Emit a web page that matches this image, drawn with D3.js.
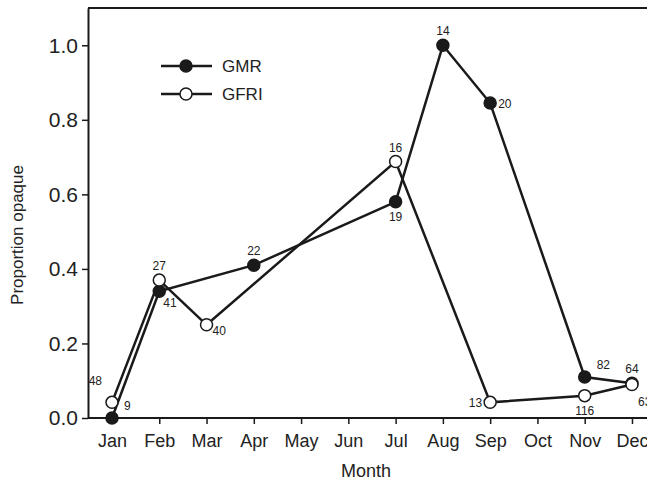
<!DOCTYPE html>
<html>
<head>
<meta charset="utf-8">
<script src="https://cdn.jsdelivr.net/npm/d3@7"></script>
<style>
  body { margin: 0; background: #fff; }
  svg text { font-family: "Liberation Sans", Arial, sans-serif; fill: #222; }
</style>
</head>
<body>
<div id="chart"></div>
<script>
// proportion of opaque otoliths by month, two sites

const months = ["Jan", "Feb", "Mar", "Apr", "May", "Jun", "Jul", "Aug", "Sep", "Oct", "Nov", "Dec"];
const yTicks = [0, 0.2, 0.4, 0.6, 0.8, 1.0];

const gmrMonths = ["Jan", "Feb", "Apr", "Jul", "Aug", "Sep", "Nov", "Dec"];
const gmrValues = [0.0, 0.34, 0.41, 0.58, 1.0, 0.845, 0.11, 0.093];
const gmrN = [9, 41, 22, 19, 14, 20, 82, 64];

const gfriMonths = ["Jan", "Feb", "Mar", "Jul", "Sep", "Nov", "Dec"];
const gfriValues = [0.042, 0.37, 0.25, 0.688, 0.042, 0.06, 0.09];
const gfriN = [48, 27, 40, 16, 13, 116, 63];

// where each sample-size label sits relative to its marker
const gmrLabelPos = ["ur", "br", "up", "down", "up", "right", "ur", "up"];
const gfriLabelPos = ["ul", "up", "rl", "up", "left", "down", "br2"];

const W = 647, H = 481;
const margin = { top: 8, left: 88, bottom: 63 };
const plotH = H - margin.top - margin.bottom;
const step = 47.27;

const svg = d3.select("#chart").append("svg")
  .attr("width", W)
  .attr("height", H);

const x = d3.scalePoint()
  .domain(months)
  .range([margin.left + 24, margin.left + 24 + step * 11]);

const y = d3.scaleLinear()
  .domain([0, 1.1])
  .range([margin.top + plotH, margin.top]);

// frame: top line and axes run off the right edge
svg.append("line")
  .attr("x1", margin.left).attr("x2", W + 5)
  .attr("y1", y(1.1)).attr("y2", y(1.1))
  .attr("stroke", "#1a1a1a").attr("stroke-width", 2);

const yAxis = svg.append("g")
  .attr("transform", `translate(${margin.left},0)`)
  .call(d3.axisLeft(y).tickValues(yTicks).tickFormat(d3.format(".1f")).tickSize(6).tickSizeOuter(0).tickPadding(4));

const xAxis = svg.append("g")
  .attr("transform", `translate(0,${y(0)})`)
  .call(d3.axisBottom(x).tickSize(6).tickSizeOuter(0).tickPadding(10));

[yAxis, xAxis].forEach((g) => {
  g.select(".domain").attr("stroke", "#1a1a1a").attr("stroke-width", 2);
  g.selectAll(".tick line").attr("stroke", "#1a1a1a").attr("stroke-width", 1.5);
});
xAxis.select(".domain").attr("d", `M${margin.left},0H${W + 5}`);
yAxis.selectAll(".tick text").style("font-size", "21px");
xAxis.selectAll(".tick text").style("font-size", "18px");

svg.append("text")
  .attr("x", 366).attr("y", 477)
  .attr("text-anchor", "middle")
  .style("font-size", "18px")
  .text("Month");

svg.append("text")
  .attr("transform", "translate(23,235) rotate(-90)")
  .attr("text-anchor", "middle")
  .style("font-size", "17px")
  .text("Proportion opaque");

const line = d3.line().x((d) => x(d.m)).y((d) => y(d.v));

const offsets = {
  up: [0, -10, "middle"],
  down: [0, 19, "middle"],
  right: [8, 5, "start"],
  left: [-8, 5, "end"],
  ur: [12, -8, "start"],
  ul: [-10, -17, "end"],
  br: [4, 16, "start"],
  rl: [6, 10, "start"],
  br2: [6, 22, "start"]
};

function drawSeries(ms, vals, ns, pos, fill) {
  const pts = ms.map((m, i) => ({ m, v: vals[i], n: ns[i], p: pos[i] }));
  svg.append("path")
    .datum(pts)
    .attr("d", line)
    .attr("fill", "none")
    .attr("stroke", "#1a1a1a")
    .attr("stroke-width", 2.5);
  svg.selectAll(null).data(pts).enter().append("circle")
    .attr("cx", (d) => x(d.m))
    .attr("cy", (d) => y(d.v))
    .attr("r", 6)
    .attr("fill", fill)
    .attr("stroke", "#1a1a1a")
    .attr("stroke-width", 1.5);
  svg.selectAll(null).data(pts).enter().append("text")
    .attr("x", (d) => x(d.m) + offsets[d.p][0])
    .attr("y", (d) => y(d.v) + offsets[d.p][1])
    .attr("text-anchor", (d) => offsets[d.p][2])
    .style("font-size", "12px")
    .text((d) => d.n);
}

drawSeries(gmrMonths, gmrValues, gmrN, gmrLabelPos, "#1a1a1a");
drawSeries(gfriMonths, gfriValues, gfriN, gfriLabelPos, "#fff");

// legend
const legend = [
  { name: "GMR", fill: "#1a1a1a", y: 66 },
  { name: "GFRI", fill: "#fff", y: 94 }
];
legend.forEach((d) => {
  svg.append("line")
    .attr("x1", 161).attr("x2", 212)
    .attr("y1", d.y).attr("y2", d.y)
    .attr("stroke", "#1a1a1a").attr("stroke-width", 2.5);
  svg.append("circle")
    .attr("cx", 186).attr("cy", d.y).attr("r", 6)
    .attr("fill", d.fill).attr("stroke", "#1a1a1a").attr("stroke-width", 1.5);
  svg.append("text")
    .attr("x", 222).attr("y", d.y + 6)
    .style("font-size", "17px")
    .text(d.name);
});
</script>
</body>
</html>
